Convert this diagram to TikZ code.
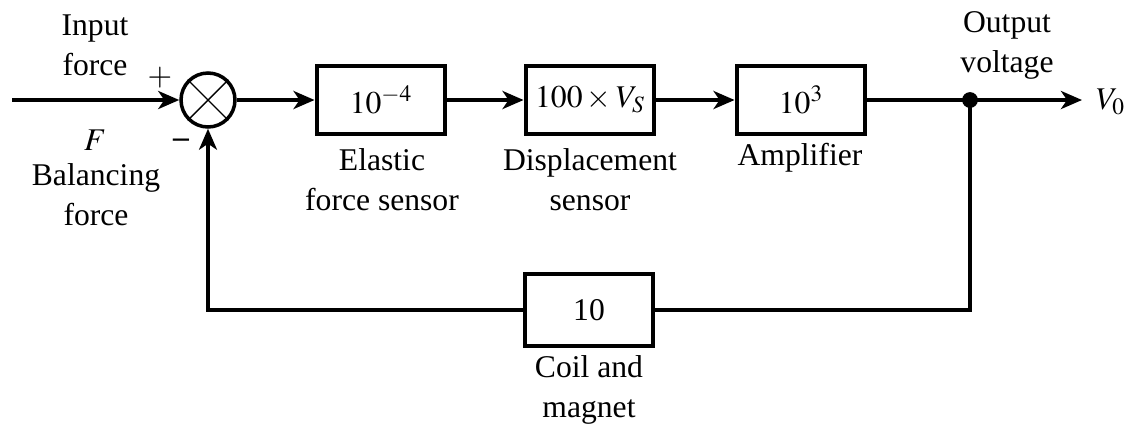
\documentclass[tikz,border=0pt]{standalone}
\usepackage{mathptmx}
\usepackage{fontspec}
\setmainfont{Liberation Serif}
\usetikzlibrary{arrows.meta,positioning}

\tikzset{
    block/.style={draw, line width=2.8pt, minimum width=2.56cm, minimum height=1.36cm, inner sep=0pt},
    sumnode/.style={draw, circle, line width=2pt, minimum size=1.08cm, inner sep=0pt},
    sig/.style={line width=2.3pt, -{Stealth[length=0.42cm,width=0.36cm,inset=0.12cm]}},
    wire/.style={line width=2.3pt},
    fb/.style={line width=1.8pt},
    lbl/.style={align=center, font=\fontsize{18}{22.7}\selectfont},
}

\begin{document}
\begin{tikzpicture}[x=0.02cm, y=-0.02cm, lbl]
        \useasboundingbox (0,0) rectangle (1128,424);

        % Forward path
        \coordinate (in) at (12,100);
        \node[sumnode] (sum) at (208,100) {};
        \draw[line width=0.8pt] (sum.north east) -- (sum.south west)
                                (sum.north west) -- (sum.south east);
        \node[block] (elastic) at (381,100) {$10^{-4}$};
        \node[block] (disp) at (590,100) {$100 \times V_S$};
        \node[block] (amp) at (801,100) {$10^{3}$};
        \coordinate (tap) at (970,100);
        \coordinate (out) at (1082,100);

        % Feedback path
        \node[block, minimum height=1.44cm] (coil) at (589,310) {10};
        \coordinate (fbR) at (970,310);
        \coordinate (fbL) at (208,310);

        % Signal lines
        \draw[sig] (in) -- (sum.west);
        \draw[sig] (sum.east) -- (elastic.west);
        \draw[sig] (elastic.east) -- (disp.west);
        \draw[sig] (disp.east) -- (amp.west);
        \draw[wire] (amp.east) -- (tap);
        \draw[sig] (tap) -- (out);
        \fill (tap) circle (4.5pt);
        \draw[fb] (tap) -- (fbR) -- (coil.east);
        \draw[fb, -{Stealth[length=0.42cm,width=0.36cm,inset=0.12cm]}] (coil.west) -- (fbL) -- (sum.south);

        % Labels
        \node at (95,45) {Input\\force};
        \node at (160,78) {$+$};
        \node at (95,140) {$F$};
        \node at (96,195) {Balancing\\force};
        \node[font=\fontsize{18}{22.7}\selectfont\bfseries] at (181,143) {--};
        \node at (382,180) {Elastic\\force sensor};
        \node at (590,180) {Displacement\\sensor};
        \node at (800,158) {Amplifier};
        \node at (1007,45) {Output\\voltage};
        \node[anchor=west] at (1090,102) {$V_0$};
        \node at (589,390) {Coil and\\magnet};
\end{tikzpicture}
\end{document}
